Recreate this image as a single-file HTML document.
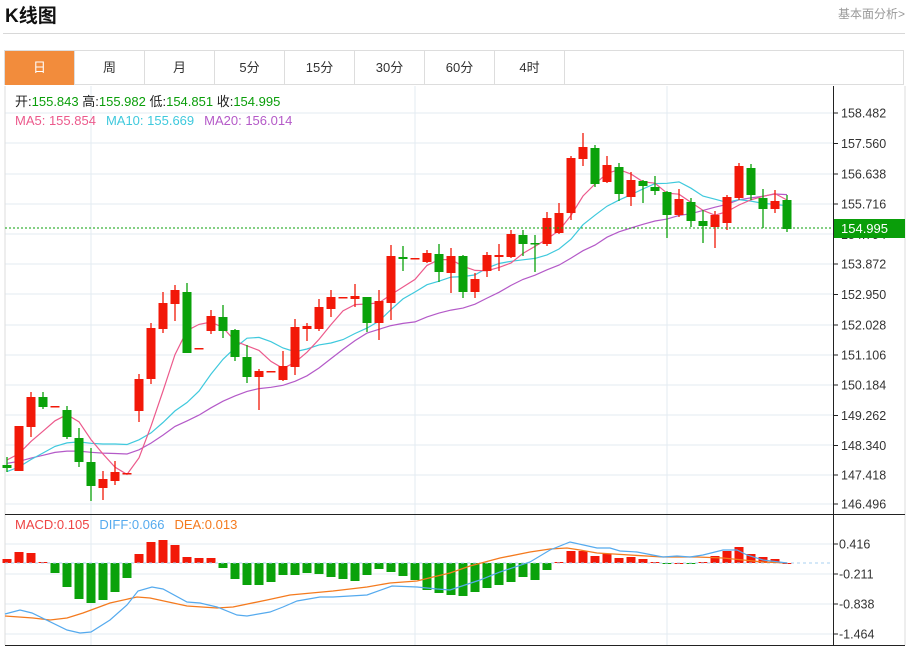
<!DOCTYPE html>
<html><head><meta charset="utf-8"><style>
body{margin:0;width:913px;height:647px;background:#fff;font-family:"Liberation Sans","Noto Sans CJK SC",sans-serif;overflow:hidden;position:relative}
.t{position:absolute;left:5px;top:1px;font-size:19px;font-weight:bold;color:#111}
.r{position:absolute;right:8px;top:5px;font-size:12px;color:#999}
.hl{position:absolute;left:3px;top:33px;width:902px;height:1px;background:#d8d8d8}
.tabs{position:absolute;left:4px;top:50px;width:900px;height:35px;border:1px solid #ddd;box-sizing:border-box}
.tab{position:absolute;top:0;width:70px;height:34px;line-height:34px;text-align:center;font-size:13px;color:#333;border-right:1px solid #ddd;box-sizing:border-box}
svg{position:absolute;left:0;top:0}
</style></head><body>
<div class="t">K线图</div><div class="r">基本面分析&gt;</div><div class="hl"></div>
<div class="tabs">
<div class="tab" style="left:0;background:#f28c3c;color:#fff">日</div>
<div class="tab" style="left:70px">周</div><div class="tab" style="left:140px">月</div>
<div class="tab" style="left:210px">5分</div><div class="tab" style="left:280px">15分</div>
<div class="tab" style="left:350px">30分</div><div class="tab" style="left:420px">60分</div>
<div class="tab" style="left:490px">4时</div>
</div>
<svg id="s" width="913" height="647" xmlns="http://www.w3.org/2000/svg"></svg>
<script>
const C=[[465,468,457,472,'g'],[426,471,426,471,'r'],[397,427,392,437,'r'],[397,407,392,409,'g'],[406,406,406,406,'r'],[410,437,406,439,'g'],[438,462,428,467,'g'],[462,486,448,501,'g'],[479,488,471,500,'r'],[472,481,461,485,'r'],[473,473,473,473,'r'],[379,411,374,422,'r'],[328,379,323,384,'r'],[303,329,292,333,'r'],[290,304,285,321,'r'],[292,353,283,353,'g'],[348,348,348,348,'r'],[316,331,310,334,'r'],[317,331,305,338,'g'],[330,357,329,361,'g'],[357,377,345,383,'g'],[371,377,369,410,'r'],[371,371,371,371,'r'],[366,380,351,381,'r'],[327,367,319,375,'r'],[326,329,323,341,'r'],[307,329,299,331,'r'],[297,309,290,317,'r'],[297,297,297,297,'r'],[296,299,284,307,'r'],[297,323,297,332,'g'],[301,323,290,340,'r'],[256,303,245,320,'r'],[257,259,246,271,'g'],[258,258,258,258,'r'],[253,262,250,263,'r'],[254,272,244,282,'g'],[256,273,248,293,'r'],[256,292,255,298,'g'],[279,292,273,298,'r'],[255,271,252,277,'r'],[255,257,244,271,'r'],[234,257,230,258,'r'],[235,244,230,256,'g'],[243,244,235,272,'g'],[218,244,212,246,'r'],[213,233,203,234,'r'],[158,213,156,220,'r'],[147,159,133,166,'r'],[148,184,145,187,'g'],[165,182,156,183,'r'],[167,194,163,201,'g'],[180,197,172,206,'r'],[181,186,180,203,'g'],[187,191,176,195,'g'],[192,215,191,238,'g'],[199,215,189,217,'r'],[202,221,198,227,'g'],[221,226,210,243,'g'],[215,227,211,248,'r'],[197,223,195,230,'r'],[166,198,163,200,'r'],[168,195,164,200,'g'],[198,209,189,228,'g'],[201,209,190,213,'r'],[200,229,195,232,'g']];
const H=[559,552,553,562,573,587,599,603,600,592,578,554,542,540,545,557,558,558,568,579,585,585,582,575,575,573,574,577,579,581,575,569,572,576,580,590,593,595,596,592,588,585,582,577,580,570,562,551,551,556,554,558,557,559,562,564,563,564,562,556,551,547,554,557,559,563];
const BL=[[5,614],[20,610],[32,613],[67,630],[80,633],[91,632],[110,620],[127,605],[138,591],[152,587],[163,589],[187,602],[200,603],[217,607],[237,615],[247,616],[270,612],[283,607],[297,601],[320,597],[333,597],[367,595],[392,586],[417,587],[437,589],[450,590],[480,580],[500,572],[530,562],[550,550],[570,542],[597,548],[610,548],[620,551],[637,552],[663,557],[677,556],[690,557],[703,555],[723,550],[737,550],[747,555],[763,560],[787,563]];
const OR=[[5,616],[33,618],[50,620],[67,618],[83,613],[110,603],[137,597],[150,598],[187,606],[217,608],[233,607],[267,600],[290,595],[333,591],[367,587],[390,583],[417,581],[433,577],[450,573],[470,566],[500,558],[530,552],[550,549],[567,548],[580,550],[597,553],[630,555],[663,557],[697,557],[723,558],[743,560],[763,562],[787,563]];
let o='';
const X=i=>7+12*i;
// grid
const py=[113,143,174,204,234,264,294,325,355,385,415,445,475,504];
py.forEach(y=>o+=`<line x1="5" x2="833" y1="${y}" y2="${y}" stroke="#e3ebf2"/>`);
[544,574,604,634].forEach(y=>o+=`<line x1="5" x2="833" y1="${y}" y2="${y}" stroke="#e3ebf2"/>`);
[91,415,667].forEach(x=>o+=`<line x1="${x}" x2="${x}" y1="86" y2="645" stroke="#e3ebf2"/>`);
o+=`<line x1="5" x2="5" y1="86" y2="645" stroke="#ddd"/><line x1="905" x2="905" y1="86" y2="645" stroke="#ddd"/>`;
o+=`<line x1="5" x2="905" y1="514.5" y2="514.5" stroke="#222"/><line x1="5" x2="905" y1="645.5" y2="645.5" stroke="#222"/>`;
o+=`<line x1="833.5" x2="833.5" y1="86" y2="645" stroke="#222"/>`;
const pl=['158.482','157.560','156.638','155.716','154.794','153.872','152.950','152.028','151.106','150.184','149.262','148.340','147.418','146.496'];
const pyy=[113,143.5,174,204,234.5,264,294.5,325,355,385,415.5,445.5,475,504];
pl.forEach((t,k)=>{o+=`<line x1="833" x2="838" y1="${pyy[k]}" y2="${pyy[k]}" stroke="#222"/><text x="841" y="${pyy[k]+4.5}" font-size="12.5" fill="#333">${t}</text>`});
[['0.416',544],['-0.211',574],['-0.838',604],['-1.464',634]].forEach(a=>o+=`<line x1="833" x2="838" y1="${a[1]}" y2="${a[1]}" stroke="#222"/><text x="839" y="${a[1]+4.5}" font-size="12.5" fill="#333">${a[0]}</text>`);
// MAs
const cl=C.map(c=>c[4]=='r'?c[0]:c[1]);
function ma(n,pad){const a=[];for(let i=0;i<cl.length;i++){let s=0;for(let k=i-n+1;k<=i;k++)s+=k<0?pad:cl[k];a.push(s/n)}return a}
const P=a=>a.map((y,i)=>X(i)+','+y.toFixed(1)).join(' ');
o+=`<polyline points="${P(ma(20,463))}" fill="none" stroke="#b45ac8" stroke-width="1.2"/>`;
o+=`<polyline points="${P(ma(10,472))}" fill="none" stroke="#3fc9dd" stroke-width="1.2"/>`;
o+=`<polyline points="${P(ma(5,458))}" fill="none" stroke="#ec5a8c" stroke-width="1.2"/>`;
// candles
C.forEach((c,i)=>{const col=c[4]=='r'?'#f21808':'#0aa20a';const x=X(i);
o+=`<line x1="${x}" x2="${x}" y1="${c[2]}" y2="${c[3]}" stroke="${col}" stroke-width="1.3"/>`;
o+=`<rect x="${x-4.5}" y="${c[0]}" width="9" height="${Math.max(1.5,c[1]-c[0])}" fill="${col}"/>`;});
// price line
o+=`<line x1="5" x2="833" y1="228" y2="228" stroke="#0aa20a" stroke-dasharray="2,2"/>`;
o+=`<rect x="834" y="219" width="71" height="19" fill="#0a9e0a"/><text x="841" y="233" font-size="13" fill="#fff">154.995</text>`;
// macd
H.forEach((h,i)=>{const x=X(i);const col=h<=563?'#f21808':'#0aa20a';const y=Math.min(h,563),hh=Math.max(1,Math.abs(h-563));o+=`<rect x="${x-4.5}" y="${y}" width="9" height="${hh}" fill="${col}"/>`});
o+=`<line x1="5" x2="833" y1="563" y2="563" stroke="#a8d0f0" stroke-dasharray="3,3"/>`;
o+=`<polyline points="${OR.map(p=>p.join(',')).join(' ')}" fill="none" stroke="#f47a1e" stroke-width="1.3"/>`;
o+=`<polyline points="${BL.map(p=>p.join(',')).join(' ')}" fill="none" stroke="#55aaee" stroke-width="1.2"/>`;
// legends
o+=`<text x="15" y="106" font-size="13" fill="#222">开:<tspan fill="#0a9e0a">155.843</tspan>  高:<tspan fill="#0a9e0a">155.982</tspan>  低:<tspan fill="#0a9e0a">154.851</tspan>  收:<tspan fill="#0a9e0a">154.995</tspan></text>`;
o+=`<text x="15" y="125" font-size="13"><tspan fill="#ec5a8c">MA5: 155.854</tspan><tspan dx="10" fill="#3fc9dd">MA10: 155.669</tspan><tspan dx="10" fill="#b45ac8">MA20: 156.014</tspan></text>`;
o+=`<text x="15" y="529" font-size="13"><tspan fill="#ee4444">MACD:0.105</tspan><tspan dx="10" fill="#55aaee">DIFF:0.066</tspan><tspan dx="10" fill="#f47a1e">DEA:0.013</tspan></text>`;
document.getElementById('s').innerHTML=o;
</script>
</body></html>
